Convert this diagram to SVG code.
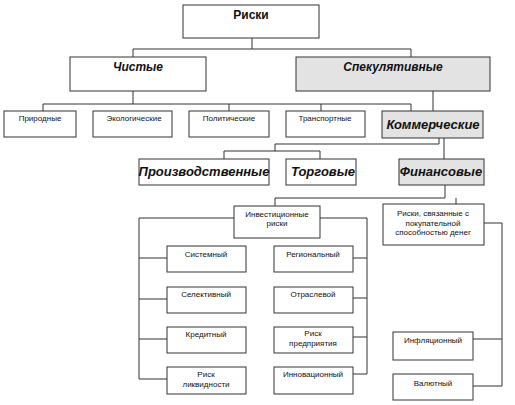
<svg xmlns="http://www.w3.org/2000/svg" width="515" height="405" viewBox="0 0 515 405">
<style>
.b{fill:#fff;stroke:#333;stroke-width:1}
.g{fill:#e3e3e3;stroke:#333;stroke-width:1}
.c{fill:none;stroke:#333;stroke-width:1}
text{font-family:"Liberation Sans",Arial,sans-serif;fill:#111;text-anchor:middle}
.t1{font-size:12px;font-weight:bold}
.t2{font-size:12px;font-weight:bold;font-style:italic}
.t3{font-size:13px;font-weight:bold;font-style:italic}
.s{font-size:8px}
</style>
<rect width="515" height="405" fill="#fff"/>
<g id="connectors">
<path class="c" d="M252,38V49M133,57V49H411V57"/>
<path class="c" d="M133,91V104M43,111V104H411V111M229,104V111M321,104V111"/>
<path class="c" d="M433,91V111"/>
<path class="c" d="M439,138V144H275V151M224,159V151H320V159"/>
<path class="c" d="M444,138V159"/>
<path class="c" d="M445,185V198H275V206M456,198V204"/>
<path class="c" d="M234,218H139V379H167M139,258H167M139,299H167M139,339H167"/>
<path class="c" d="M320,218H367V374H353M353,258H367M353,298H367M353,337H367"/>
<path class="c" d="M484,223H502V386H473M473,339H502"/>
</g>
<g id="n-riski"><rect class="b" x="183" y="5" width="136" height="33"/><text class="t1" x="251" y="19">Риски</text></g>
<g id="n-chistye"><rect class="b" x="70" y="57" width="136" height="34"/><text class="t2" x="138" y="71">Чистые</text></g>
<g id="n-spek"><rect class="g" x="296" y="57" width="194" height="34"/><text class="t2" x="393" y="71">Спекулятивные</text></g>
<g id="n-prirod"><rect class="b" x="4" y="111" width="72" height="26"/><text class="s" x="40" y="121">Природные</text></g>
<g id="n-ekol"><rect class="b" x="93" y="111" width="79" height="26"/><text class="s" x="134" y="121">Экологические</text></g>
<g id="n-polit"><rect class="b" x="189" y="111" width="80" height="26"/><text class="s" x="229" y="121">Политические</text></g>
<g id="n-transp"><rect class="b" x="286" y="111" width="79" height="26"/><text class="s" x="325" y="121">Транспортные</text></g>
<g id="n-komm"><rect class="g" x="382" y="111" width="101" height="27"/><text class="t3" x="433" y="129">Коммерческие</text></g>
<g id="n-proizv"><rect class="b" x="139" y="159" width="130" height="26"/><text class="t3" x="204" y="176">Производственные</text></g>
<g id="n-torg"><rect class="b" x="286" y="159" width="70" height="26"/><text class="t3" x="323" y="176">Торговые</text></g>
<g id="n-fin"><rect class="g" x="399" y="159" width="85" height="26"/><text class="t3" x="441" y="176">Финансовые</text></g>
<g id="n-invest"><rect class="b" x="234" y="206" width="86" height="32"/><text class="s" x="277" y="217">Инвестиционные</text><text class="s" x="277" y="226">риски</text></g>
<g id="n-pokup"><rect class="b" x="383" y="204" width="101" height="41"/><text class="s" x="433" y="216">Риски, связанные с</text><text class="s" x="433" y="226">покупательной</text><text class="s" x="433" y="235">способностью денег</text></g>
<g id="n-sist"><rect class="b" x="167" y="246" width="79" height="26"/><text class="s" x="206" y="257">Системный</text></g>
<g id="n-sel"><rect class="b" x="167" y="287" width="79" height="26"/><text class="s" x="206" y="297">Селективный</text></g>
<g id="n-kred"><rect class="b" x="167" y="327" width="79" height="26"/><text class="s" x="206" y="337">Кредитный</text></g>
<g id="n-likv"><rect class="b" x="167" y="367" width="79" height="27"/><text class="s" x="206" y="377">Риск</text><text class="s" x="206" y="387">ликвидности</text></g>
<g id="n-reg"><rect class="b" x="274" y="246" width="79" height="26"/><text class="s" x="313" y="257">Региональный</text></g>
<g id="n-otr"><rect class="b" x="274" y="287" width="79" height="26"/><text class="s" x="313" y="297">Отраслевой</text></g>
<g id="n-pred"><rect class="b" x="274" y="327" width="79" height="26"/><text class="s" x="313" y="336">Риск</text><text class="s" x="313" y="346">предприятия</text></g>
<g id="n-innov"><rect class="b" x="274" y="367" width="79" height="27"/><text class="s" x="313" y="377">Инновационный</text></g>
<g id="n-infl"><rect class="b" x="393" y="332" width="80" height="28"/><text class="s" x="433" y="343">Инфляционный</text></g>
<g id="n-val"><rect class="b" x="393" y="374" width="80" height="26"/><text class="s" x="433" y="386">Валютный</text></g>
</svg>
